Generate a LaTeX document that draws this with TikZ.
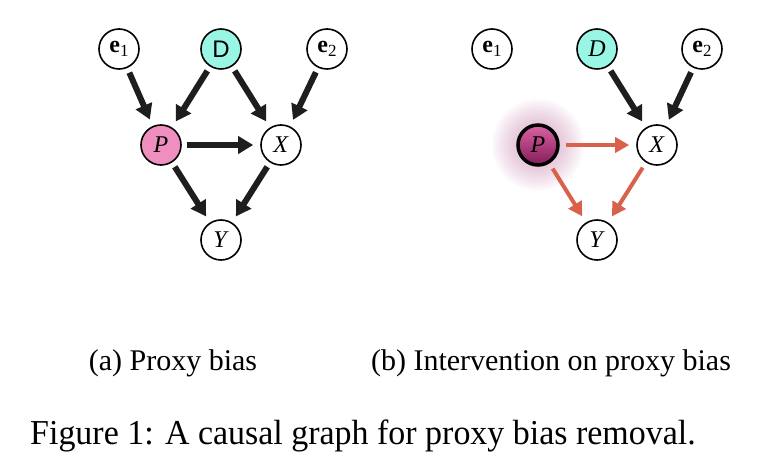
\documentclass[tikz,border=0pt]{standalone}
\usepackage{fontspec}
\setmainfont{Liberation Serif}
\newfontfamily\sansD{Liberation Sans}
\usetikzlibrary{arrows.meta}
\definecolor{aqua}{RGB}{153,246,228}
\definecolor{pinkP}{RGB}{239,143,192}
\definecolor{redarr}{RGB}{217,96,74}
\definecolor{ptop}{RGB}{218,98,162}
\definecolor{pbot}{RGB}{132,28,90}
\definecolor{glowc}{RGB}{195,120,165}
\definecolor{blackarr}{RGB}{30,30,30}
\newcommand{\eone}{\textbf{e}\raisebox{-4.5pt}{\fontsize{17}{17}\selectfont 1}}
\newcommand{\etwo}{\textbf{e}\raisebox{-4.5pt}{\fontsize{17}{17}\selectfont 2}}
\begin{document}
\begin{tikzpicture}[x=1pt,y=-1pt,
  var/.style={circle,draw,line width=1.6pt,minimum size=40pt,inner sep=0pt,fill=white,font=\fontsize{24}{24}\selectfont},
  blk/.style={-{Triangle[width=17pt,length=15pt]},line width=6pt,draw=blackarr,shorten <=5pt,shorten >=7pt},
  redarrow/.style={-{Triangle[width=15pt,length=14pt]},line width=4pt,draw=redarr,shorten <=6pt,shorten >=7pt},
  subcap/.style={anchor=base,inner sep=0pt,font=\fontsize{30}{36}\selectfont}
]
\useasboundingbox (0,0) rectangle (769,462);
% left graph
\node[var] (e1a) at (119,49) {\eone};
\node[var,fill=aqua] (Da) at (221,49) {\sansD D};
\node[var] (e2a) at (327,49) {\etwo};
\node[var,fill=pinkP] (Pa) at (161,145) {\textit{P}};
\node[var] (Xa) at (281,145) {\textit{X}};
\node[var] (Ya) at (221,240) {\textit{Y}};
\draw[blk] (e1a) -- (Pa);
\draw[blk] (Da) -- (Pa);
\draw[blk] (Da) -- (Xa);
\draw[blk] (e2a) -- (Xa);
\draw[blk] (Pa) -- (Xa);
\draw[blk] (Pa) -- (Ya);
\draw[blk] (Xa) -- (Ya);
% right graph: glow around P
\foreach \r in {46,44,...,22} \fill[glowc,opacity=0.04] (538,145) circle (\r);
\node[var] (e1b) at (492,49) {\eone};
\node[var,fill=aqua] (Db) at (597,49) {\textit{D}};
\node[var] (e2b) at (702,49) {\etwo};
\node[var,line width=3.5pt,top color=ptop,bottom color=pbot] (Pb) at (538,145) {\textit{P}};
\node[var] (Xb) at (657,145) {\textit{X}};
\node[var] (Yb) at (597,240) {\textit{Y}};
\draw[blk] (Db) -- (Xb);
\draw[blk] (e2b) -- (Xb);
\draw[redarrow] (Pb) -- (Xb);
\draw[redarrow] (Pb) -- (Yb);
\draw[redarrow] (Xb) -- (Yb);
% captions
\node[subcap] (capa) at (173,371) {(a) Proxy bias};
\node[subcap] (capb) at (551,371) {(b) Intervention on proxy bias};
\node[anchor=base west,inner sep=0pt,font=\fontsize{35}{40}\selectfont] (fig) at (30,444) {\scalebox{0.97}[1]{Figure 1: A causal graph for proxy bias removal.}};
\end{tikzpicture}
\end{document}
